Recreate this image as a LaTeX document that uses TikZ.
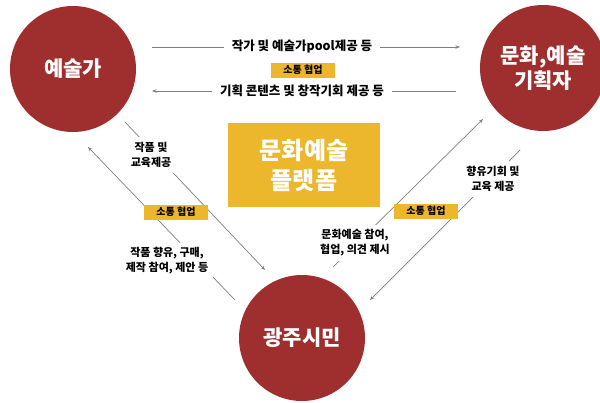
\documentclass[tikz,border=0pt]{standalone}
\usepackage{fontspec}
\setmainfont{Noto Sans CJK KR}
\usetikzlibrary{arrows.meta}
\definecolor{wine}{HTML}{9E2F2E}
\definecolor{gold}{HTML}{ECB62D}
\definecolor{wire}{HTML}{7F7F7F}
\begin{document}
\begin{tikzpicture}[x=1pt,y=-1pt,
    circ/.style={circle,fill=wine,text=white,minimum size=126pt,inner sep=0pt,
      align=center,font=\bfseries\fontsize{21}{25}\selectfont},
    plat/.style={fill=gold,text=white,minimum width=152pt,minimum height=84pt,
      align=center,font=\bfseries\fontsize{24}{30}\selectfont},
    tag/.style={fill=gold,minimum width=64pt,minimum height=15pt,inner sep=0pt,
      font=\bfseries\fontsize{10}{11}\selectfont},
    note/.style={fill=white,inner sep=5pt,align=center,
      font=\bfseries\fontsize{11}{15}\selectfont},
    wide/.style={fill=white,inner sep=8pt,font=\bfseries\fontsize{12.5}{14}\selectfont},
    flow/.style={draw=wire,line width=0.7pt,-{Stealth[length=4.5pt,width=3.5pt]}}]
  \clip (0,0) rectangle (600,402);
  % actors
  \node[circ] at (73,69) (A) {예술가};
  \node[circ] at (543,68) (P) {문화,예술\\기획자};
  \node[circ] at (302,338) (C) {광주시민};
  % platform
  \node[plat] at (304,165) (M) {문화예술\\플랫폼};
  % top pair
  \coordinate (t1s) at (152,47);
  \coordinate (t1e) at (460,47);
  \coordinate (t2s) at (456,91);
  \coordinate (t2e) at (152,91);
  \draw[flow] (t1s) -- (t1e);
  \draw[flow] (t2s) -- (t2e);
  \node[wide] at (302,47) (T1) {작가 및 예술가pool제공 등};
  \node[wide] at (302,91) (T2) {기획 콘텐츠 및 창작기회 제공 등};
  \node[tag] at (303,70) (K1) {소통 협업};
  % left pair
  \coordinate (l1s) at (125,122);
  \coordinate (l1e) at (265,270);
  \coordinate (l2s) at (235,300);
  \coordinate (l2e) at (88,147);
  \draw[flow] (l1s) -- (l1e);
  \draw[flow] (l2s) -- (l2e);
  \node[note] at (151,155) (L1) {작품 및\\교육제공};
  \node[note] at (167,261) (L2) {작품 향유, 구매,\\제작 참여, 제안 등};
  \node[tag] at (176,212) (K2) {소통 협업};
  % right pair
  \coordinate (r1s) at (333,267);
  \coordinate (r1e) at (483,119);
  \coordinate (r2s) at (520,150);
  \coordinate (r2e) at (370,300);
  \draw[flow] (r1s) -- (r1e);
  \draw[flow] (r2s) -- (r2e);
  \node[note] at (355,243) (R1) {문화예술 참여,\\협업, 의견 제시};
  \node[note] at (493,179) (R2) {향유기회 및\\교육 제공};
  \node[tag] at (426,211) (K3) {소통 협업};
\end{tikzpicture}
\end{document}
